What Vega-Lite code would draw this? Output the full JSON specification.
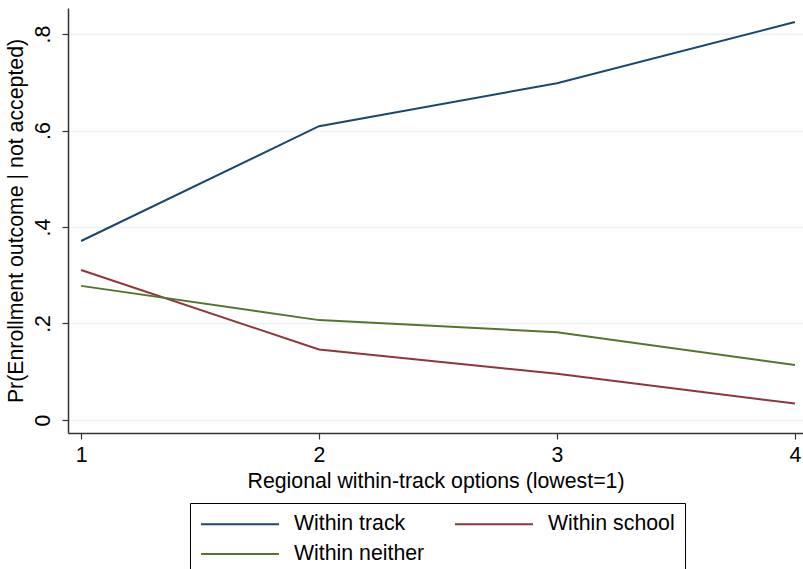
{
  "$schema": "https://vega.github.io/schema/vega-lite/v6.json",
  "autosize": {"type": "none"},
  "width": 735,
  "height": 425,
  "padding": {"left": 68, "top": 8, "right": 0, "bottom": 136},
  "background": "white",
  "config": {
    "font": "Liberation Sans",
    "view": {"stroke": null},
    "axis": {"labelFont": "Liberation Sans", "titleFont": "Liberation Sans", "labelFontSize": 21.3, "titleFontSize": 21.3, "titleFontWeight": "normal", "labelColor": "#000", "titleColor": "#000", "domainColor": "#333", "tickColor": "#333", "domainWidth": 1.5, "tickWidth": 1.2}
  },
  "data": {
    "values": [
      {"x": 1, "p": 0.371, "series": "Within track"},
      {"x": 2, "p": 0.609, "series": "Within track"},
      {"x": 3, "p": 0.698, "series": "Within track"},
      {"x": 4, "p": 0.825, "series": "Within track"},
      {"x": 1, "p": 0.311, "series": "Within school"},
      {"x": 2, "p": 0.146, "series": "Within school"},
      {"x": 3, "p": 0.096, "series": "Within school"},
      {"x": 4, "p": 0.034, "series": "Within school"},
      {"x": 1, "p": 0.278, "series": "Within neither"},
      {"x": 2, "p": 0.207, "series": "Within neither"},
      {"x": 3, "p": 0.182, "series": "Within neither"},
      {"x": 4, "p": 0.114, "series": "Within neither"}
    ]
  },
  "mark": {"type": "line", "strokeWidth": 2, "clip": true},
  "encoding": {
    "x": {
      "field": "x", "type": "quantitative",
      "scale": {"domain": [0.945, 4.034], "nice": false, "zero": false},
      "axis": {"values": [1, 2, 3, 4], "grid": false, "tickSize": 6, "labelPadding": 5, "title": "Regional within-track options (lowest=1)", "titlePadding": 5}
    },
    "y": {
      "field": "p", "type": "quantitative",
      "scale": {"domain": [-0.027, 0.854], "nice": false, "zero": false},
      "axis": {"values": [0, 0.2, 0.4, 0.6, 0.8], "grid": true, "gridColor": "#eaf2f3", "gridWidth": 1.5, "tickSize": 6, "labelAngle": -90, "labelAlign": "center", "labelBaseline": "bottom", "labelPadding": 9,
        "labelExpr": "datum.value == 0 ? '0' : replace(format(datum.value, '.1f'), '0.', '.')",
        "title": "Pr(Enrollment outcome | not accepted)", "titlePadding": 6}
    },
    "color": {
      "field": "series", "type": "nominal",
      "scale": {"domain": ["Within track", "Within school", "Within neither"], "range": ["#1a476f", "#90353b", "#55752f"]},
      "legend": {
        "title": null, "orient": "none", "legendX": 122, "legendY": 495, "direction": "horizontal", "columns": 2, "gridAlign": "all",
        "symbolType": "M-1,0H6.8", "symbolSize": 400, "symbolStrokeWidth": 2, "symbolFillColor": "transparent",
        "labelFontSize": 21.3, "labelFont": "Liberation Sans", "labelColor": "#000", "labelOffset": 72,
        "columnPadding": 26, "rowPadding": 8, "padding": 10,
        "strokeColor": "#000", "fillColor": "white"
      }
    }
  }
}
